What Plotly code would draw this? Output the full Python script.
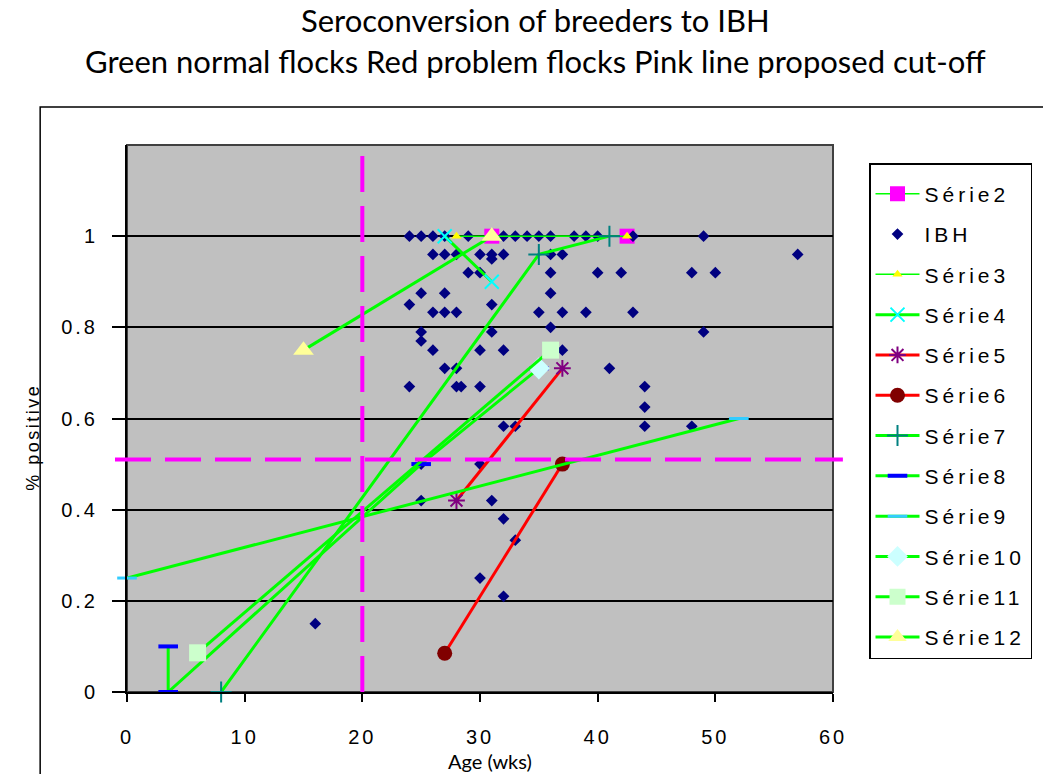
import plotly.graph_objects as go

# ---- data ----------------------------------------------------------------
# IBH survey flocks: age (weeks) and fraction of birds positive
ibh_age = [24, 25, 26, 27, 29, 32, 33, 34, 35, 36, 38, 39, 40, 43, 49,
           26, 27, 28, 30, 31, 32, 36, 37, 57, 31,
           29, 30, 36, 40, 42, 48, 50,
           25, 27, 36,
           24, 31,
           26, 27, 28, 35, 37, 39, 43,
           25, 31, 36, 49, 25,
           26, 30, 32, 37,
           27, 28, 41,
           24, 28, 28.4, 30, 44,
           44,
           32, 33, 44, 48,
           25, 30,
           25, 31,
           32, 33, 30, 32, 16]
ibh_pos = [1.0, 1.0, 1.0, 1.0, 1.0, 1.0, 1.0, 1.0, 1.0, 1.0, 1.0, 1.0, 1.0, 1.0, 1.0,
           0.96, 0.96, 0.96, 0.96, 0.96, 0.96, 0.96, 0.96, 0.96, 0.95,
           0.92, 0.92, 0.92, 0.92, 0.92, 0.92, 0.92,
           0.875, 0.875, 0.875,
           0.85, 0.85,
           0.833, 0.833, 0.833, 0.833, 0.833, 0.833, 0.833,
           0.79, 0.79, 0.80, 0.79, 0.77,
           0.75, 0.75, 0.75, 0.75,
           0.71, 0.71, 0.71,
           0.67, 0.67, 0.67, 0.67, 0.67,
           0.625,
           0.583, 0.583, 0.583, 0.583,
           0.50, 0.50,
           0.42, 0.42,
           0.38, 0.333, 0.25, 0.21, 0.15]

# individual flocks followed over time
s2_age, s2_pos = [31, 42.5], [1.0, 1.0]
s3_age, s3_pos = [28, 42.5], [1.0, 1.0]
s4_age, s4_pos = [27, 31], [1.0, 0.9]
s5_age, s5_pos = [28, 37], [0.42, 0.71]
s6_age, s6_pos = [27, 37], [0.085, 0.5]
s7_age, s7_pos = [8, 35, 41], [0.0, 0.96, 1.0]
s8_age, s8_pos = [3.5, 3.5, 25, 35], [0.1, 0.0, 0.5, 0.71]
s9_age, s9_pos = [0, 52], [0.25, 0.6]
s10_age, s10_pos = [35], [0.71]
s11_age, s11_pos = [6, 36], [0.086, 0.75]
s12_age, s12_pos = [15, 31], [0.75, 1.0]

cutoff_age = 20
cutoff_pos = 0.51

y_ticks = [0, 0.2, 0.4, 0.6, 0.8, 1.0]
y_tick_text = ["0", "0.2", "0.4", "0.6", "0.8", "1"]
x_ticks = [0, 10, 20, 30, 40, 50, 60]
x_tick_text = ["0", "10", "20", "30", "40", "50", "60"]

GREEN = "#00FF00"
RED = "#FF0000"


def spaced(txt, px=4):
    return f'<span style="letter-spacing:{px}px">{txt}</span>'


fig = go.Figure()


def add_series(name, xs, ys, line_color, line_width, marker, mode="lines+markers"):
    fig.add_trace(go.Scatter(
        x=xs, y=ys, name=spaced(name), mode=mode, legendgroup=name,
        line=dict(color=line_color, width=line_width),
        marker=marker, cliponaxis=False,
    ))


add_series("Série2", s2_age, s2_pos, GREEN, 1.5,
           dict(symbol="square", size=15, color="#FF00FF", line=dict(width=0)))
fig.add_trace(go.Scatter(
    x=ibh_age, y=ibh_pos, name=spaced("IBH"), mode="markers", legendgroup="IBH",
    marker=dict(symbol="diamond", size=9, color="#000080", line=dict(width=0)),
))
add_series("Série3", s3_age, s3_pos, GREEN, 1.5,
           dict(symbol="triangle-up", size=9, color="#FFFF00", line=dict(width=0)))
add_series("Série4", s4_age, s4_pos, GREEN, 3,
           dict(symbol="x-thin", size=14, color="#00FFFF", line=dict(width=2, color="#00FFFF")))
add_series("Série5", s5_age, s5_pos, RED, 3,
           dict(symbol="asterisk", size=14, color="#800080", line=dict(width=2, color="#800080")))
add_series("Série6", s6_age, s6_pos, RED, 3,
           dict(symbol="circle", size=15, color="#800000", line=dict(width=0)))
add_series("Série7", s7_age, s7_pos, GREEN, 3,
           dict(symbol="cross-thin", size=15, color="#008080", line=dict(width=2, color="#008080")))
add_series("Série8", s8_age, s8_pos, GREEN, 3,
           dict(symbol="line-ew", size=14, color="#0000FF", line=dict(width=4, color="#0000FF")))
add_series("Série9", s9_age, s9_pos, GREEN, 3,
           dict(symbol="line-ew", size=14, color="#33CCFF", line=dict(width=3, color="#33CCFF")))
add_series("Série10", s10_age, s10_pos, GREEN, 3,
           dict(symbol="diamond", size=17, color="#CCFFFF", line=dict(width=0)))
add_series("Série11", s11_age, s11_pos, GREEN, 3,
           dict(symbol="square", size=17, color="#CCFFCC", line=dict(width=0)))
add_series("Série12", s12_age, s12_pos, GREEN, 3,
           dict(symbol="triangle-up", size=18, color="#FFFF99", line=dict(width=0)))

PINK = "#FF00FF"
shapes = [
    # proposed cut-off lines
    dict(type="line", xref="x", yref="y", x0=cutoff_age, x1=cutoff_age, y0=0, y1=1.2,
         line=dict(color=PINK, width=4, dash="36px,14px"), layer="above"),
    dict(type="line", xref="paper", yref="y", x0=-0.017, x1=1.014, y0=cutoff_pos, y1=cutoff_pos,
         line=dict(color=PINK, width=4, dash="36px,14px"), layer="above"),
    # plot area frame (top/right)
    dict(type="rect", xref="paper", yref="paper", x0=0, x1=1, y0=0, y1=1,
         line=dict(color="#404040", width=2), layer="below"),
    # outer chart frame
    dict(type="rect", xref="paper", yref="paper", x0=-0.123, x1=1.40, y0=-0.30, y1=1.0695,
         line=dict(color="#000000", width=1.5), layer="below"),
]

TITLE_FONT = "Lato, Liberation Sans, Arial"
annotations = [
    dict(text="Seroconversion of breeders to IBH", xref="paper", yref="paper",
         x=0.579, y=1.2285, xanchor="center", yanchor="middle", showarrow=False,
         font=dict(family=TITLE_FONT, size=31, color="#000000")),
    dict(text="Green normal flocks Red problem flocks Pink line proposed cut-off",
         xref="paper", yref="paper", x=0.579, y=1.1536, xanchor="center", yanchor="middle",
         showarrow=False,
         font=dict(family=TITLE_FONT, size=31, color="#000000")),
    dict(text="Age (wks)", xref="paper", yref="paper", x=0.514, y=-0.126,
         xanchor="center", yanchor="middle", showarrow=False,
         font=dict(family=TITLE_FONT, size=20, color="#000000")),
    dict(text=spaced("% positive", 2.5), xref="paper", yref="paper", x=-0.133, y=0.465,
         xanchor="center", yanchor="middle", showarrow=False, textangle=-90,
         font=dict(family="Liberation Sans, Arial", size=18, color="#000000")),
]

fig.update_layout(
    width=1043, height=774,
    margin=dict(l=127, r=210, t=145, b=82),
    paper_bgcolor="#FFFFFF",
    plot_bgcolor="#C0C0C0",
    showlegend=True,
    legend=dict(
        xref="container", yref="container",
        x=869 / 1043, y=1 - 163 / 774, xanchor="left", yanchor="top",
        bgcolor="#FFFFFF", bordercolor="#000000", borderwidth=1.5,
        font=dict(family="Liberation Sans, Arial", size=21, color="#000000"),
        tracegroupgap=10, itemwidth=44, maxheight=600,
        title=dict(text="&nbsp;", font=dict(size=7)),
    ),
    xaxis=dict(
        range=[0, 60], tickvals=x_ticks,
        ticktext=[spaced(t, 3) for t in x_tick_text],
        showgrid=False, zeroline=False,
        showline=True, linecolor="#000000", linewidth=2,
        ticks="outside", ticklen=8, tickwidth=2, tickcolor="#000000",
        ticklabelstandoff=18,
        tickfont=dict(family="Liberation Sans, Arial", size=20, color="#000000"),
    ),
    yaxis=dict(
        range=[0, 1.2], tickvals=y_ticks,
        ticktext=[spaced(t, 3) for t in y_tick_text],
        showgrid=True, gridcolor="#000000", gridwidth=2, zeroline=False,
        showline=True, linecolor="#000000", linewidth=2,
        ticks="outside", ticklen=13, tickwidth=2, tickcolor="#000000",
        ticklabelstandoff=10,
        tickfont=dict(family="Liberation Sans, Arial", size=20, color="#000000"),
    ),
    shapes=shapes,
    annotations=annotations,
)

fig.write_html("out.html")
